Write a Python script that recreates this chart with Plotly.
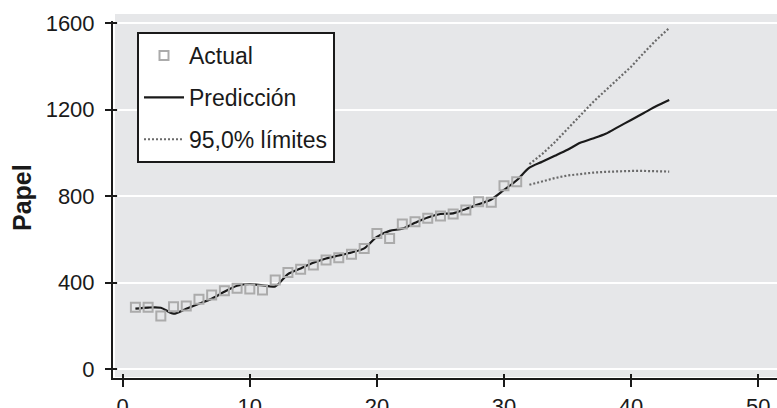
import plotly.graph_objects as go

# Observed series (periods 1-31)
t_actual = [1, 2, 3, 4, 5, 6, 7, 8, 9, 10, 11, 12, 13, 14, 15, 16, 17, 18, 19, 20,
            21, 22, 23, 24, 25, 26, 27, 28, 29, 30, 31]
actual = [286, 286, 246, 289, 292, 323, 343, 363, 374, 371, 366, 413, 447, 462, 482, 505,
          515, 532, 558, 628, 604, 672, 682, 698, 709, 718, 736, 775, 772, 849, 867]

# Fitted values and forecast (periods 1-43)
t_pred = [1, 2, 3, 4, 5, 6, 7, 8, 9, 10, 11, 12, 13, 14, 15, 16, 17, 18, 19, 20, 21, 22,
          23, 24, 25, 26, 27, 28, 29, 30, 31, 32, 33, 34, 35, 36, 37, 38, 39, 40, 41, 42, 43]
pred = [280, 285, 284, 257, 280, 303, 326, 358, 386, 394, 388, 383, 440, 466, 492, 512,
        526, 540, 559, 612, 640, 650, 677, 702, 718, 721, 741, 763, 785, 829, 874,
        932, 960, 987, 1015, 1047, 1067, 1089, 1121, 1153, 1185, 1217, 1245]

# 95% forecast limits (periods 32-43)
t_lim = [32, 33, 34, 35, 36, 37, 38, 39, 40, 41, 42, 43]
upper = [949, 995, 1050, 1111, 1176, 1235, 1290, 1344, 1399, 1463, 1524, 1578]
lower = [853, 870, 884, 896, 904, 909, 913, 916, 917, 917, 916, 914]

y_ticks = [0, 400, 800, 1200, 1600]
x_ticks = [0, 10, 20, 30, 40, 50]

FONT = "Liberation Sans, Arial, Helvetica, sans-serif"
INK = "#1a1a1a"
W, H = 777, 408
ML, MR, MT, MB = 118, 0, 14, 35
PW, PH = W - ML - MR, H - MT - MB

fig = go.Figure()

lim_style = dict(color="#6a6a6a", width=2.2, dash="2px,2px")
fig.add_trace(go.Scatter(x=t_lim, y=upper, mode="lines", name="95,0% límites",
                         line=lim_style, legendgroup="lim", legendrank=3))
fig.add_trace(go.Scatter(x=t_lim, y=lower, mode="lines", name="95,0% límites",
                         line=lim_style, legendgroup="lim", showlegend=False))
fig.add_trace(go.Scatter(x=t_pred, y=pred, mode="lines", name="Predicción",
                         line=dict(color=INK, width=2.2, shape="spline", smoothing=0.8),
                         legendgroup="pred", legendrank=2))
fig.add_trace(go.Scatter(x=t_actual, y=actual, mode="markers", name="Actual",
                         marker=dict(symbol="square-open", size=9, color="#ababab",
                                     line=dict(width=2, color="#ababab")),
                         legendgroup="act", legendrank=1))

# grey panel, inset a few pixels from the axis lines
fig.add_shape(type="rect", xref="paper", yref="paper",
              x0=-3 / PW, x1=1, y0=-4 / PH, y1=1,
              fillcolor="#e6e7e9", line=dict(width=0), layer="below")
# axis lines sit 6 px outside the panel so the ticks cross them
fig.add_shape(type="line", xref="paper", yref="paper",
              x0=-6 / PW, x1=-6 / PW, y0=-7 / PH, y1=(PH - 7) / PH,
              line=dict(color=INK, width=2), layer="above")
fig.add_shape(type="line", xref="paper", yref="paper",
              x0=-7 / PW, x1=1, y0=-6 / PH, y1=-6 / PH,
              line=dict(color=INK, width=2), layer="above")

x_range = [-0.37, 51.48]
y_range = [-17.6, 1643]

common = dict(showline=False, tickcolor=INK, tickwidth=2,
              gridcolor="white", gridwidth=2, zeroline=False, automargin=False,
              tickfont=dict(family=FONT, size=22, color=INK))

fig.update_layout(
    width=W, height=H,
    margin=dict(l=ML, r=MR, t=MT, b=MB, autoexpand=False),
    paper_bgcolor="white", plot_bgcolor="rgba(0,0,0,0)",
    font=dict(family=FONT, size=22, color=INK),
    showlegend=True,
    xaxis=dict(range=x_range, tickvals=x_ticks, ticks="outside", ticklen=13,
               ticklabelstandoff=1, showgrid=False, **common),
    yaxis=dict(range=y_range, tickvals=y_ticks, ticks="outside", ticklen=12,
               ticklabelstandoff=6, showgrid=True, **common),
    legend=dict(x=(137 - ML) / PW, y=(H - MB - 32) / PH, xanchor="left", yanchor="top",
                bgcolor="white", bordercolor=INK, borderwidth=2,
                font=dict(family=FONT, size=23, color=INK),
                tracegroupgap=9, itemwidth=40, traceorder="grouped"),
    annotations=[dict(text="<b>Papel</b>", textangle=-90, xref="paper", yref="paper",
                      x=(22 - ML) / PW, y=(H - MB - 198) / PH,
                      xanchor="center", yanchor="middle",
                      showarrow=False, font=dict(family=FONT, size=25, color=INK))],
)

fig.write_html("out.html")
